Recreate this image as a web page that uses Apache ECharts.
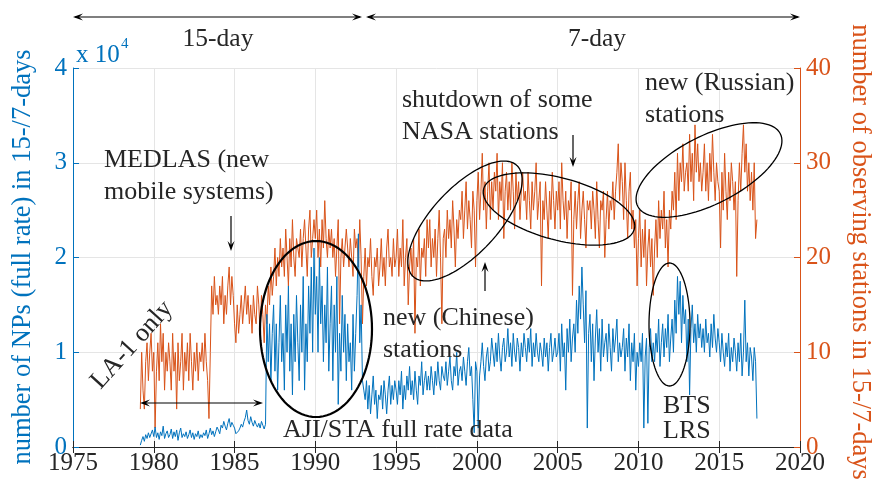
<!DOCTYPE html>
<html><head><meta charset="utf-8">
<script src="https://cdn.jsdelivr.net/npm/echarts@6/dist/echarts.min.js"></script>
<style>html,body{margin:0;padding:0;background:#fff}#c{width:875px;height:488px}</style>
</head><body><div id="c"></div>
<script>
// ---- data ----
const startYear = 1979 + 2/12;   // first sample
const samplesPerYear = 12;       // one value per month
const xTickLabels = ['1975','1980','1985','1990','1995','2000','2005','2010','2015','2020'];
const leftTickLabels = ['0','1','2','3','4'];
const rightTickLabels = ['0','10','20','30','40'];

// number of NPs (full rate) in 15-/7-days
const npCounts = [
 200,700,1100,600,1300,900,1500,1000,1200,1800,
 1100,2100,1000,1500,800,1600,1200,2200,900,1400,1700,1000,
 1300,1900,900,1600,1100,1800,700,1500,2000,1000,1400,1100,
 1600,900,1300,1800,1000,1500,800,1400,1100,1700,900,1300,
 1000,1500,1200,1800,900,1400,2000,1300,1700,1100,1600,2100,
 1800,1400,2300,2000,2700,2200,1800,2500,3000,2100,2600,2300,
 2000,1400,1300,1700,2000,2400,2100,2700,3100,3900,2800,2400,
 3200,2600,2200,2800,2400,2100,2500,2000,2700,2300,1900,2400,
 14000,9000,13000,7000,12000,15000,8000,13000,6000,11000,16000,9000,
 12000,6000,15000,10000,17000,8000,13000,5500,14000,9000,16000,11000,
 7000,15000,10000,18000,6000,13000,9000,17000,12000,19000,10000,21000,
 14000,18000,10000,20000,13000,17000,9000,15000,11000,19000,8000,13000,
 17000,7000,15000,10000,18000,4500,12000,8000,16000,10000,14000,7000,
 13000,9000,11000,6000,14000,8000,12000,16000,22500,11000,15000,7000,
 6000,5000,7000,4000,6500,3500,5500,7500,4500,6000,3000,5500,
 5000,6500,4000,7000,5500,3500,6000,7500,4500,6500,5000,7000,
 6000,4500,7000,5500,8000,4000,6500,5000,7500,6000,8500,5500,
 7000,5000,8000,6000,4500,7500,6500,9000,5500,7000,8000,6000,
 7500,6000,8500,7000,5500,8000,6500,9000,7000,6000,8500,7500,
 7000,9000,6500,8000,9500,7000,6000,8500,7500,10000,6500,8000,
 8500,7000,9500,8000,6500,9000,10500,7500,8500,5000,1500,9000,
 8000,2000,7500,9000,11000,8500,7000,9500,10500,8000,9000,11500,
 10000,8500,11000,9000,12000,9500,8000,10500,11500,9000,10000,12500,
 9500,11000,8500,12000,10000,9000,11500,10500,8000,11000,9500,12000,
 10500,9000,11500,10000,12500,8500,11000,9500,12000,10000,9000,11000,
 10000,8500,11500,9500,11000,8000,10500,12000,9000,10000,11500,9500,
 10000,12000,8000,13000,9500,11000,6000,12500,10000,13500,9000,11500,
 13000,10000,15500,12000,17000,13500,19000,15000,11000,16500,2000,12000,
 14000,9000,13000,7000,11500,14500,10000,12500,8000,13500,9500,11000,
 12000,9000,13000,10500,8000,12500,10000,11500,13500,9000,11000,9500,
 10500,12500,8000,11500,9500,13000,7000,11000,9000,12000,6000,10000,
 8500,11000,9000,12000,2000,9500,11500,2500,10500,12500,9000,11000,
 9000,12000,10000,13500,8500,11000,13000,9500,12500,10500,14000,9000,
 11500,13500,10000,15500,12000,18000,14000,17500,11000,16000,13000,14500,
 9000,13500,5500,12500,15000,11000,13000,10000,14000,11500,13000,10500,
 12500,10000,13500,11000,12000,9500,13000,10500,14000,11500,10000,12500,
 11000,9000,12000,10000,8500,11000,9500,12000,8000,10500,9000,11500,
 10000,8000,11000,9000,12000,7500,10000,15500,9000,11000,7500,10500,
 9500,7000,10500,9000,3000
];

// number of observing stations in 15-/7-days
const stationCounts = [
 4,10,6,4,9,11,7,10,12,8,
 10,2,8,11,7,13,9,12,6,10,8,11,
 9,6,12,8,10,4,11,7,9,12,6,10,
 8,11,7,12,9,6,10,8,11,7,10,9,
 11,8,12,9,7,3,10,17,14,18,15,16,
 14,17,15,18,13,16,14,17,19,15,18,16,
 13,11,15,12,14,16,13,15,17,14,16,13,
 15,12,16,14,13,17,15,12,16,14,11,15,
 13,17,15,19,16,18,21,17,20,18,22,19,
 21,18,23,20,17,22,19,24,20,18,22,21,
 20,23,19,22,24,21,18,23,25,20,22,24,
 22,25,20,23,19,24,21,26,22,20,23,21,
 23,20,22,18,21,24,13,20,22,19,21,23,
 21,19,22,20,18,23,21,22,19,24,20,13,
 18,21,17,20,19,22,18,16,20,19,21,17,
 19,22,18,20,17,21,23,19,20,18,22,19,
 20,23,18,21,19,24,17,20,22,15,19,21,
 18,22,12,20,19,23,17,21,20,22,18,24,
 21,24,19,22,20,23,18,22,25,20,13,22,
 23,20,25,22,24,21,26,23,19,24,22,25,
 24,27,22,25,28,23,26,24,21,27,25,19,
 26,29,24,27,31,25,28,23,27,30,24,28,
 25,29,27,31,24,28,26,30,22,27,29,25,
 28,25,30,27,23,29,26,28,24,27,29,26,
 27,24,29,26,23,28,25,27,30,24,26,28,
 17,26,24,28,25,22,27,24,29,26,23,27,
 25,28,23,30,26,24,27,22,26,25,28,16,
 24,27,23,26,28,22,25,27,24,21,26,25,
 26,23,27,25,22,28,24,21,26,25,27,20,
 24,27,23,26,25,28,24,27,29,32,26,30,
 28,24,30,26,22,27,29,23,25,21,24,17,
 22,25,19,23,20,24,17,21,23,19,22,16,
 21,24,20,26,22,25,23,27,21,24,19,25,
 23,27,25,29,24,31,26,30,28,32,27,29,
 30,27,33,28,31,26,34,29,32,28,30,27,
 29,32,27,30,26,31,28,33,29,26,30,28,
 27,21,29,25,31,27,24,29,26,30,28,25,
 28,18,26,30,27,31,34,29,32,27,30,26,
 29,25,30,22,24
];

// ---- styling ----
const BLUE = '#0072BD', ORANGE = '#D95319', DARK = '#262626', GRID = '#e5e5e5';
const FONT = '"Liberation Serif","Times New Roman",serif';

const npPoints = npCounts.map((v, i) => [startYear + i / samplesPerYear, v]);
const stPoints = stationCounts.map((v, i) => [startYear + i / samplesPerYear, v]);

function ellipse(cx, cy, a, b, deg, lw) {
  const t = deg * Math.PI / 180, pts = [];
  for (let k = 0; k < 96; k++) {
    const u = k / 96 * 2 * Math.PI, x = a * Math.cos(u), y = b * Math.sin(u);
    pts.push([cx + x * Math.cos(t) + y * Math.sin(t), cy - x * Math.sin(t) + y * Math.cos(t)]);
  }
  return {type:'polygon', z:100, shape:{points:pts}, style:{fill:'none', stroke:'#000', lineWidth:lw}};
}
function head(x, y, deg) {
  const t = deg * Math.PI / 180, dx = Math.cos(t), dy = Math.sin(t), L = 10, W = 7;
  const px = -dy, py = dx;
  return {type:'polygon', z:100, shape:{points:[
    [x, y],
    [x - L*dx + W/2*px, y - L*dy + W/2*py],
    [x - 0.6*L*dx, y - 0.6*L*dy],
    [x - L*dx - W/2*px, y - L*dy - W/2*py]]}, style:{fill:'#000', stroke:'none'}};
}
function seg(x1, y1, x2, y2) {
  return {type:'line', z:100, shape:{x1, y1, x2, y2}, style:{stroke:'#000', lineWidth:1.2}};
}
function txt(s, x, y, opts) {
  opts = opts || {};
  return {type:'text', z:100, x, y, rotation:(opts.rot || 0) * Math.PI / 180,
    style:{text:s, font:(opts.size || 26) + 'px ' + FONT, fill:opts.color || DARK,
      align:opts.align || 'left', verticalAlign:'middle'}};
}

const graphics = [
  seg(75, 17, 360, 17), head(73, 17, 180), head(362, 17, 0),
  seg(368, 17, 798, 17), head(366, 17, 180), head(800, 17, 0),
  txt('15-day', 218, 39, {align:'center', size:25.5}),
  txt('7-day', 597, 39, {align:'center', size:25.5}),
  txt('x 10', 76, 55, {size:25, color:BLUE}),
  txt('4', 121, 44, {size:15, color:BLUE}),
  txt('number of NPs (full rate) in 15-/7-days', 23, 257, {size:26.5, color:BLUE, rot:90, align:'center'}),
  txt('number of observing stations in 15-/7-days', 860, 252, {size:26.5, color:ORANGE, rot:-90, align:'center'}),
  txt('MEDLAS (new', 104, 160), txt('mobile systems)', 104, 192),
  seg(231, 216, 231, 245), head(231, 251, 90),
  txt('LA-1 only', 132, 345, {rot:48, align:'center'}),
  seg(143, 403, 260, 403), head(140, 403, 180), head(263, 403, 0),
  txt('AJI/STA full rate data', 283, 430),
  txt('new (Chinese)', 383, 318), txt('stations', 383, 350),
  seg(485, 291, 485, 268), head(485, 262, -90),
  txt('shutdown of some', 402, 100), txt('NASA stations', 402, 132),
  seg(573, 135, 573, 161), head(573, 167, 90),
  txt('new (Russian)', 645, 83), txt('stations', 645, 115),
  txt('BTS', 663, 406), txt('LRS', 663, 431),
  ellipse(316, 329, 56, 88, 0, 2.2),
  ellipse(465, 221, 76, 33, 47, 1.3),
  ellipse(559, 209, 78, 31, -15, 1.3),
  ellipse(709, 170, 80, 34, 27, 1.3),
  ellipse(669.5, 324.5, 20.5, 61.5, 0, 1.3)
];

const chart = echarts.init(document.getElementById('c'));
chart.setOption({
  animation: false,
  backgroundColor: '#fff',
  grid: {left: 73, right: 75, top: 68, bottom: 41, containLabel: false},
  xAxis: [
    {type:'value', position:'bottom', min:1975, max:2020, interval:5,
     axisLine:{lineStyle:{color:DARK, width:1}},
     axisTick:{inside:true, length:6, lineStyle:{color:DARK}},
     axisLabel:{color:DARK, fontFamily:FONT, fontSize:25, margin:4,
       formatter: v => xTickLabels[Math.round((v - 1975) / 5)]},
     splitLine:{show:true, lineStyle:{color:GRID, width:1}}},
    {type:'value', position:'top', min:1975, max:2020, interval:5,
     axisLine:{show:true, lineStyle:{color:DARK, width:1}},
     axisTick:{inside:true, length:6, lineStyle:{color:DARK}},
     axisLabel:{show:false}, splitLine:{show:false}}
  ],
  yAxis: [
    {type:'value', position:'left', min:0, max:40000, interval:10000,
     axisLine:{show:true, lineStyle:{color:BLUE, width:1}},
     axisTick:{show:true, inside:true, length:6, lineStyle:{color:BLUE}},
     axisLabel:{color:BLUE, fontFamily:FONT, fontSize:25, margin:6,
       formatter: v => leftTickLabels[Math.round(v / 10000)]},
     splitLine:{show:true, lineStyle:{color:GRID, width:1}}},
    {type:'value', position:'right', min:0, max:40, interval:10,
     axisLine:{show:true, lineStyle:{color:ORANGE, width:1}},
     axisTick:{show:true, inside:true, length:6, lineStyle:{color:ORANGE}},
     axisLabel:{color:ORANGE, fontFamily:FONT, fontSize:25, margin:6,
       formatter: v => rightTickLabels[Math.round(v / 10)]},
     splitLine:{show:false}}
  ],
  series: [
    {name:'stations', type:'line', xAxisIndex:0, yAxisIndex:1, data:stPoints,
     showSymbol:false, symbol:'none', lineStyle:{color:ORANGE, width:1}, z:2},
    {name:'NPs', type:'line', xAxisIndex:0, yAxisIndex:0, data:npPoints,
     showSymbol:false, symbol:'none', lineStyle:{color:BLUE, width:1}, z:3}
  ],
  graphic: graphics
});
</script></body></html>
